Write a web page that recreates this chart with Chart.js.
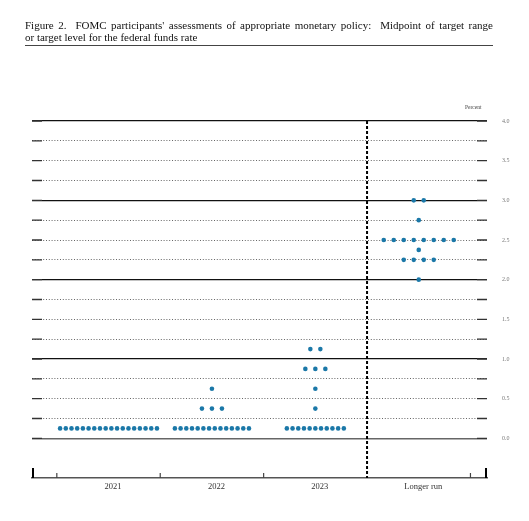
<!DOCTYPE html>
<html>
<head>
<meta charset="utf-8">
<script src="https://cdn.jsdelivr.net/npm/chart.js@4.4.1/dist/chart.umd.min.js"></script>
<style>
  body { margin: 0; background: #fff; }
  #wrap { position: absolute; left: 0; top: 0; width: 529px; height: 521px; }
  #title { position: absolute; left: 25px; top: 19px; width: 468px; font-family: 'Liberation Serif', 'DejaVu Serif', serif; font-size: 11px; color: #111; line-height: 12px; }
  #title div:first-child { text-align: justify; text-align-last: justify; }
  #rule { position: absolute; left: 25px; top: 45px; width: 468px; height: 0; border-top: 1.6px solid #444; }
  #percent { position: absolute; left: 465px; top: 104px; font-family: 'Liberation Serif', serif; font-size: 5.5px; color: #444; }
</style>
</head>
<body>
<div id="wrap"><canvas id="dots"></canvas></div>
<div id="title">
  <div>Figure 2.&nbsp; FOMC participants' assessments of appropriate monetary policy:&nbsp; Midpoint of target range</div>
  <div>or target level for the federal funds rate</div>
</div>
<div id="rule"></div>
<div id="percent">Percent</div>
<script>
// projection periods and the midpoints participants submitted
const years = ['2021', '2022', '2023', 'Longer run'];
const levels = [0.125, 0.375, 0.625, 0.875, 1.125, 2.0, 2.25, 2.375, 2.5, 2.75, 3.0];
const counts2021 = [18, 0, 0, 0, 0, 0, 0, 0, 0, 0, 0];
const counts2022 = [14, 3, 1, 0, 0, 0, 0, 0, 0, 0, 0];
const counts2023 = [11, 1, 1, 3, 2, 0, 0, 0, 0, 0, 0];
const countsLonger = [0, 0, 0, 0, 0, 1, 4, 1, 8, 1, 2];

const gridValues = [0, 0.25, 0.5, 0.75, 1, 1.25, 1.5, 1.75, 2, 2.25, 2.5, 2.75, 3, 3.25, 3.5, 3.75, 4];
const labelValues = [0, 0.5, 1, 1.5, 2, 2.5, 3, 3.5, 4];

const dotBlue = '#1b78a8';

function buildDots() {
    const all = [counts2021, counts2022, counts2023, countsLonger];
    const pts = [];
    all.forEach((counts, yi) => {
        counts.forEach((n, li) => {
            // crowded rows get packed tighter
            const step = n > 9 ? 0.0551 : 0.0967;
            for (let k = 0; k < n; k++) {
                pts.push({ x: yi + (k - (n - 1) / 2) * step, y: levels[li] });
            }
        });
    });
    return pts;
}

const extraMarks = {
    id: 'extraMarks',
    beforeDatasetsDraw(chart) {
        const c = chart.ctx;
        const x = chart.scales.x;
        const y = chart.scales.y;
        const area = chart.chartArea;
        c.save();
        // short solid ends on every grid line
        c.strokeStyle = '#333';
        c.lineWidth = 1.3;
        gridValues.forEach(v => {
            const py = y.getPixelForValue(v);
            c.beginPath();
            c.moveTo(area.left, py); c.lineTo(area.left + 10, py);
            c.moveTo(area.right - 10, py); c.lineTo(area.right, py);
            c.stroke();
        });
        // dashed divider before longer run
        const dx = x.getPixelForValue(2.5);
        c.strokeStyle = '#000';
        c.lineWidth = 2;
        c.setLineDash([3, 2]);
        c.beginPath();
        c.moveTo(dx, area.top); c.lineTo(dx, area.bottom);
        c.stroke();
        c.setLineDash([]);
        // x axis tick marks
        c.strokeStyle = '#444';
        c.lineWidth = 1.2;
        [-0.5, 0.5, 1.5, 3.5].forEach(v => {
            const px = x.getPixelForValue(v);
            c.beginPath();
            c.moveTo(px, area.bottom); c.lineTo(px, area.bottom - 5);
            c.stroke();
        });
        c.strokeStyle = '#000';
        c.lineWidth = 2;
        c.beginPath();
        c.moveTo(area.left + 1, area.bottom); c.lineTo(area.left + 1, area.bottom - 10);
        c.moveTo(area.right - 1, area.bottom); c.lineTo(area.right - 1, area.bottom - 10);
        c.stroke();
        c.restore();
    }
};

new Chart(document.getElementById('dots'), {
    type: 'scatter',
    data: {
        datasets: [{
            data: buildDots(),
            backgroundColor: dotBlue,
            borderWidth: 0,
            pointRadius: 2.3,
            pointHoverRadius: 2.3
        }]
    },
    options: {
        responsive: true,
        maintainAspectRatio: false,
        animation: false,
        layout: { padding: { top: 121, left: 32, right: 0, bottom: 0 } },
        plugins: { legend: { display: false }, tooltip: { enabled: false } },
        scales: {
            x: {
                type: 'linear',
                min: -0.74,
                max: 3.66,
                afterBuildTicks: s => { s.ticks = years.map((_, i) => ({ value: i })); },
                afterFit: s => { s.height = 43; },
                grid: { display: false, drawTicks: false },
                border: { display: true, color: '#555', width: 1.5 },
                ticks: {
                    callback: v => years[v],
                    autoSkip: false,
                    maxRotation: 0,
                    labelOffset: 4.5,
                    padding: 4,
                    color: '#333',
                    font: { family: 'Liberation Serif', size: 8.5 }
                }
            },
            y: {
                min: -0.5,
                max: 4,
                afterBuildTicks: s => { s.ticks = gridValues.map(v => ({ value: v })); },
                afterFit: s => { s.width = 0; },
                ticks: { display: false },
                border: {
                    display: false,
                    dash: ctx => Number.isInteger(ctx.tick.value) ? [] : [1, 1.8]
                },
                grid: {
                    drawTicks: false,
                    color: ctx => ctx.tick.value === 0 ? '#666' : (Number.isInteger(ctx.tick.value) ? '#111' : '#555'),
                    lineWidth: ctx => ctx.tick.value === 0 ? 1.5 : (Number.isInteger(ctx.tick.value) ? 1.2 : 0.9)
                }
            },
            y2: {
                position: 'right',
                min: -0.5,
                max: 4,
                afterBuildTicks: s => { s.ticks = labelValues.map(v => ({ value: v })); },
                afterFit: s => { s.width = 42; },
                grid: { display: false },
                border: { display: false },
                ticks: {
                    callback: v => v.toFixed(1),
                    padding: 7,
                    color: '#777',
                    font: { family: 'Liberation Serif', size: 6 }
                }
            }
        }
    },
    plugins: [extraMarks]
});
</script>
</body>
</html>
